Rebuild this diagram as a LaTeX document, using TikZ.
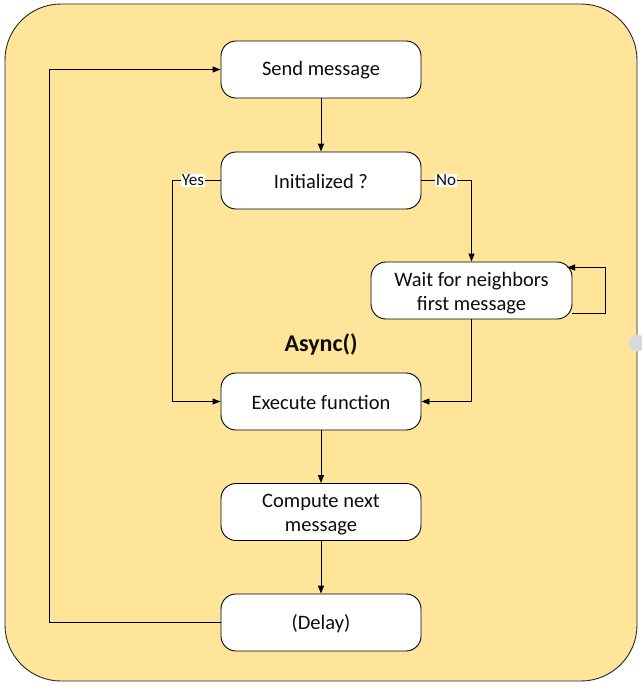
\documentclass[tikz,border=0pt]{standalone}
\usepackage{fontspec}
\setmainfont{Carlito}
\usetikzlibrary{arrows.meta}
\definecolor{bgyellow}{HTML}{FFE599}
\definecolor{dotgray}{HTML}{D9D9D9}
\definecolor{txt}{HTML}{0D0D0D}
\tikzset{
  boxtxt/.style={inner sep=0pt, align=center, text=txt,
    font=\fontsize{20.5}{24}\selectfont},
  boxbase/.style={draw=black, line width=0.9pt, fill=white, rounded corners=15pt,
    minimum width=200pt, minimum height=57pt, inner sep=0pt},
  stepbox/.style={boxbase, label={[boxtxt, yshift=-1pt]center:#1}},
  stepboxtwo/.style={boxbase, label={[boxtxt, yshift=-2.5pt]center:#1}},
  conn/.style={draw=black, line width=0.9pt},
  arr/.style={conn, -{Triangle[length=8pt,width=6pt]}},
  lbl/.style={fill=white, inner sep=1pt, text=txt, font=\fontsize{17}{19}\selectfont}
}
\begin{document}
\begin{tikzpicture}[x=1pt,y=-1pt]
\useasboundingbox (0,0) rectangle (642,686);
\begin{scope}
\clip (0,0) rectangle (642,686);
\draw[fill=bgyellow, draw=black!85, line width=0.9pt, rounded corners=56pt] (5,4) rectangle (637,681);
\fill[dotgray] (637,343) circle (8.5);
\end{scope}

\node[stepbox={Send message}] (send) at (321,69.5) {};
\node[stepbox={Initialized ?}] (init) at (321,180.5) {};
\node[stepboxtwo={Wait for neighbors\\first message}, minimum width=201pt] (wait) at (471.5,290.5) {};
\node[stepbox={Execute function}] (exec) at (321,401.5) {};
\node[stepboxtwo={Compute next\\message}] (comp) at (321,512) {};
\node[stepbox={(Delay)}] (delay) at (321,622.5) {};

\node[font=\fontsize{24}{28}\selectfont\bfseries, text=txt] (async) at (321,344) {Async()};

\coordinate (yl) at (172,180.5);
\coordinate (yb) at (172,401.5);
\coordinate (nr) at (471.5,180.5);
\coordinate (wb) at (471.5,401.5);
\coordinate (dl) at (49,622.5);
\coordinate (dt) at (49,69.5);
\coordinate (lr) at (605,313);
\coordinate (lt) at (605,267.5);
\coordinate (lo) at (572,313);
\coordinate (li) at (567,267.5);

\draw[arr] (send) -- (init);
\draw[arr] (init.west) -- (yl) -- (yb) -- (exec.west);
\draw[arr] (init.east) -- (nr) -- (wait.north);
\draw[arr] (lo) -- (lr) -- (lt) -- (li);
\draw[arr] (wait.south) -- (wb) -- (exec.east);
\draw[arr] (exec) -- (comp);
\draw[arr] (comp) -- (delay);
\draw[arr] (delay.west) -- (dl) -- (dt) -- (send.west);

\node[lbl] (yes) at (193,180.5) {Yes};
\node[lbl] (no) at (446,180.5) {No};
\end{tikzpicture}
\end{document}
